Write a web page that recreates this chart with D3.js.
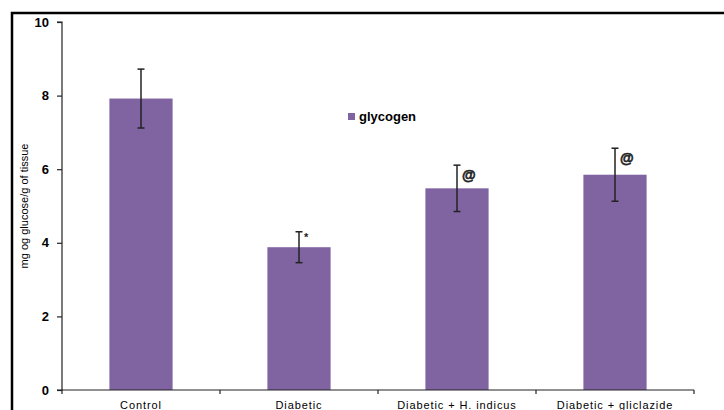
<!DOCTYPE html>
<html><head><meta charset="utf-8">
<script src="https://cdn.jsdelivr.net/npm/d3@7"></script>
<style>body{margin:0;background:#fff}svg{display:block}text{font-family:"Liberation Sans",Arial,sans-serif}</style>
</head><body>
<svg id="c" width="724" height="410"></svg>
<script>
const categories = ["Control", "Diabetic", "Diabetic + H. indicus", "Diabetic + gliclazide"];
const glycogen = [7.92, 3.88, 5.48, 5.85];
const errors = [0.80, 0.42, 0.63, 0.72];
const marks = ["", "*", "@", "@"];
const yTicks = [0, 2, 4, 6, 8, 10];
const seriesName = "glycogen";
const yLabel = "mg og glucose/g of tissue";

const svg = d3.select("#c");
const mLeft = 62, mRight = 694, mTop = 22, mBottom = 390;

// frame
svg.append("rect").attr("x", 12).attr("y", 13).attr("width", 720).attr("height", 410)
  .attr("fill", "none").attr("stroke", "#000").attr("stroke-width", 2.5);

const y = d3.scaleLinear().domain([0, 10]).range([mBottom, mTop]);
const x = d3.scaleBand().domain(categories).range([mLeft, mRight]).paddingInner(0.6).paddingOuter(0.3);
const x0 = d3.scaleBand().domain(categories).range([mLeft, mRight]).padding(0);

// bars
svg.selectAll("rect.bar").data(categories).join("rect").attr("class", "bar")
  .attr("x", d => x(d)).attr("width", x.bandwidth())
  .attr("y", (d, i) => y(glycogen[i])).attr("height", (d, i) => mBottom - y(glycogen[i]))
  .attr("fill", "#8064A2");

// y axis
const ya = svg.append("g").attr("transform", `translate(${mLeft},0)`)
  .call(d3.axisLeft(y).tickValues(yTicks).tickSize(5).tickPadding(8).tickFormat(d3.format("d")));
ya.select(".domain").attr("stroke", "#222").attr("stroke-width", 1.2).attr("d", `M-5,${mTop}H0V${mBottom}H-5`);
ya.selectAll(".tick line").attr("stroke", "#222").attr("stroke-width", 1.2);
ya.selectAll(".tick text").attr("font-size", 13).attr("font-weight", "bold").attr("fill", "#000")
  .attr("font-family", "Liberation Sans, Arial, sans-serif");

// x axis line with boundary ticks
svg.append("line").attr("x1", mLeft).attr("x2", mRight).attr("y1", mBottom).attr("y2", mBottom)
  .attr("stroke", "#222").attr("stroke-width", 1.2);
const bounds = categories.map(c => x0(c)).concat([mRight]);
svg.selectAll("line.xt").data(bounds).join("line").attr("class", "xt")
  .attr("x1", d => d).attr("x2", d => d).attr("y1", mBottom).attr("y2", mBottom + 4)
  .attr("stroke", "#222").attr("stroke-width", 1.2);
svg.selectAll("text.xl").data(categories).join("text").attr("class", "xl")
  .attr("x", d => x(d) + x.bandwidth() / 2).attr("y", 409)
  .attr("text-anchor", "middle").attr("font-size", 11).attr("fill", "#000").attr("letter-spacing", 0.9)
  .text(d => d);

// error bars
const eb = svg.selectAll("g.eb").data(categories).join("g").attr("class", "eb")
  .attr("stroke", "#222").attr("stroke-width", 1.5);
eb.append("line").attr("x1", d => x(d) + x.bandwidth() / 2).attr("x2", d => x(d) + x.bandwidth() / 2)
  .attr("y1", (d, i) => y(glycogen[i] + errors[i])).attr("y2", (d, i) => y(glycogen[i] - errors[i]));
eb.append("line").attr("x1", d => x(d) + x.bandwidth() / 2 - 3.5).attr("x2", d => x(d) + x.bandwidth() / 2 + 3.5)
  .attr("y1", (d, i) => y(glycogen[i] + errors[i])).attr("y2", (d, i) => y(glycogen[i] + errors[i]));
eb.append("line").attr("x1", d => x(d) + x.bandwidth() / 2 - 3.5).attr("x2", d => x(d) + x.bandwidth() / 2 + 3.5)
  .attr("y1", (d, i) => y(glycogen[i] - errors[i])).attr("y2", (d, i) => y(glycogen[i] - errors[i]));

// significance marks
svg.selectAll("text.mk").data(categories).join("text").attr("class", "mk")
  .attr("x", d => x(d) + x.bandwidth() / 2 + 5)
  .attr("y", (d, i) => y(glycogen[i] + errors[i]) + (marks[i] === "*" ? 9 : 15))
  .attr("font-size", (d, i) => marks[i] === "*" ? 11 : 14).attr("font-weight", "bold").attr("fill", "#222")
  .attr("stroke", "#222").attr("stroke-width", (d, i) => marks[i] === "@" ? 0.6 : 0)
  .text((d, i) => marks[i]);

// legend
svg.append("rect").attr("x", 348).attr("y", 113).attr("width", 7).attr("height", 7).attr("fill", "#8064A2");
svg.append("text").attr("x", 359).attr("y", 121).attr("font-size", 13).attr("font-weight", "bold")
  .attr("fill", "#000").text(seriesName);

// y label
svg.append("text").attr("transform", `translate(28,206) rotate(-90)`).attr("text-anchor", "middle")
  .attr("font-size", 11).attr("fill", "#000").text(yLabel);
</script>
</body></html>
